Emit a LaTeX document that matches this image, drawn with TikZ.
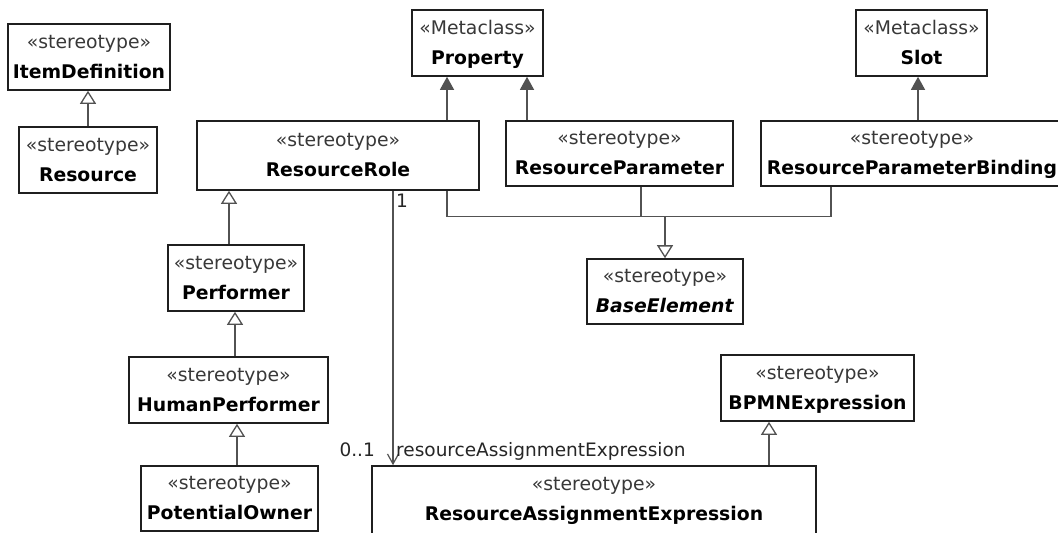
\documentclass[tikz,border=0pt]{standalone}
\usepackage{fontspec}
\setmainfont{DejaVu Sans}
\usetikzlibrary{arrows.meta}

% one UML class box: gray stereotype line above a bold name
\newcommand{\umlcls}[2]{{\color{black!78}#1}\\\textbf{#2}}

\begin{document}
\begin{tikzpicture}[x=1pt, y=-1pt,
  font=\fontsize{18.8}{30}\selectfont,
  cls/.style={draw=black!88, line width=1.6pt, fill=white, align=center,
              inner sep=0pt, minimum height=66pt, text height=44pt, text depth=2pt},
  link/.style={draw=black!68, line width=1.3pt},
  gen/.style={link, -{Triangle[open, width=16pt, length=13pt, fill=white]}},
  ext/.style={link, -{Triangle[width=14pt, length=13pt]}},
  nav/.style={link, -{Straight Barb[width=11pt, length=10pt, line width=1.2pt]}},
  lbl/.style={inner sep=0pt, font=\fontsize{18.5}{22}\selectfont, text=black!85}
]
\useasboundingbox[fill=white] (0,0) rectangle (1058,533);

% classes
\node[cls, minimum width=162pt] (idef) at (89,57)    {\umlcls{«stereotype»}{ItemDefinition}};
\node[cls, minimum width=138pt] (res)  at (88,160)   {\umlcls{«stereotype»}{Resource}};
\node[cls, minimum width=131pt] (prop) at (477.5,43) {\umlcls{«Metaclass»}{Property}};
\node[cls, minimum width=131pt] (slot) at (921.5,43) {\umlcls{«Metaclass»}{Slot}};
\node[cls, minimum width=282pt, minimum height=69pt] (rr)  at (338,155.5)   {\umlcls{«stereotype»}{ResourceRole}};
\node[cls, minimum width=227pt, minimum height=65pt] (rp)  at (619.5,153.5) {\umlcls{«stereotype»}{ResourceParameter}};
\node[cls, minimum width=302pt, minimum height=65pt] (rpb) at (912,153.5)   {\umlcls{«stereotype»}{ResourceParameterBinding}};
\node[cls, minimum width=156pt, minimum height=65pt] (base) at (665,291.5)  {\umlcls{«stereotype»}{\textbf{\itshape BaseElement}}};
\node[cls, minimum width=136pt] (perf) at (236,278)   {\umlcls{«stereotype»}{Performer}};
\node[cls, minimum width=199pt] (hp)   at (228.5,390) {\umlcls{«stereotype»}{HumanPerformer}};
\node[cls, minimum width=177pt, minimum height=65pt] (po) at (229.5,498.5) {\umlcls{«stereotype»}{PotentialOwner}};
\node[cls, minimum width=193pt] (bpmn) at (817.5,388) {\umlcls{«stereotype»}{BPMNExpression}};
\node[cls, minimum width=444pt, minimum height=106pt, text depth=42pt] (rae) at (594,519)
  {\umlcls{«stereotype»}{ResourceAssignmentExpression}};

% connector end points
\coordinate (rrProp)  at ([xshift=109pt]rr.north);
\coordinate (rpProp)  at ([xshift=-92.5pt]rp.north);
\coordinate (rpbSlot) at ([xshift=6pt]rpb.north);
\coordinate (rrBase)  at ([xshift=109pt]rr.south);
\coordinate (rpBase)  at ([xshift=21.5pt]rp.south);
\coordinate (rpbBase) at ([xshift=-81pt]rpb.south);
\coordinate (join)    at ([yshift=42pt]base.north);
\coordinate (perfUp)  at ([xshift=-7pt]perf.north);
\coordinate (hpUp)    at ([xshift=6.5pt]hp.north);
\coordinate (poUp)    at ([xshift=7.5pt]po.north);
\coordinate (raeUp)   at ([xshift=175pt]rae.north);
\coordinate (rrAssoc) at ([xshift=55pt]rr.south);
\coordinate (raeIn)   at (rrAssoc |- rae.north);

% generalizations
\draw[gen] (res.north) -- (res.north |- idef.south);
\draw[gen] (perfUp) -- (perfUp |- rr.south);
\draw[gen] (hpUp) -- (hpUp |- perf.south);
\draw[gen] (poUp) -- (poUp |- hp.south);
\draw[gen] (raeUp) -- (raeUp |- bpmn.south);
\draw[link] (rrBase) |- (join) -| (rpbBase);
\draw[link] (rpBase) -- (rpBase |- join);
\draw[gen] (join) -- (base.north);

% extensions to metaclasses
\draw[ext] (rrProp) -- (rrProp |- prop.south);
\draw[ext] (rpProp) -- (rpProp |- prop.south);
\draw[ext] (rpbSlot) -- (rpbSlot |- slot.south);

% association
\draw[nav] (rrAssoc) -- (raeIn);
\node[lbl, anchor=north west] (m1) at ([xshift=3pt, yshift=-3pt]rrAssoc) {1};
\node[lbl, anchor=base east] (m01) at ([xshift=-18pt, yshift=9pt]raeIn) {0..1};
\node[lbl, anchor=base west] (role) at ([xshift=3pt, yshift=9pt]raeIn) {resourceAssignmentExpression};
\end{tikzpicture}
\end{document}
